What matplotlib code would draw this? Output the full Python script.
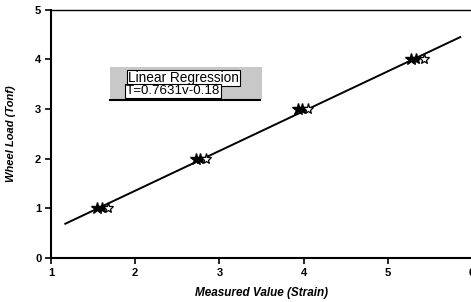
import matplotlib
matplotlib.use("Agg")
import matplotlib.pyplot as plt
from matplotlib.patches import Rectangle

# wheel load (Tonf) vs measured strain
load = [1, 2, 3, 4]
strain_a = [1.55, 2.72, 3.93, 5.27]
strain_b = [1.60, 2.77, 3.98, 5.33]
strain_c = [1.68, 2.84, 4.05, 5.43]
fit_x = [1.17, 5.86]
fit_y = [0.69, 4.45]
fit_title = "Linear Regression"
fit_eq = "T=0.7631v-0.18"
xticks = [1, 2, 3, 4, 5, 6]
yticks = [0, 1, 2, 3, 4, 5]

plt.rcParams["font.family"] = ["Liberation Sans", "DejaVu Sans"]

fig = plt.figure(figsize=(4.71, 3.02), dpi=100)
ax = fig.add_axes([0.1083, 0.1457, 0.894, 0.822])

ax.plot(fit_x, fit_y, color="black", lw=1.4, zorder=2)
ax.plot(strain_a, load, linestyle="none", marker="*", ms=9, color="black", zorder=3)
ax.plot(strain_b, load, linestyle="none", marker="*", ms=8, color="black", zorder=3)
ax.plot(strain_c, load, linestyle="none", marker="*", ms=8, mfc="white",
        mec="black", mew=0.9, zorder=3)

ax.set_xlim(1, 6)
ax.set_ylim(0, 5)
ax.set_xticks(xticks)
ax.set_yticks(yticks)
ax.tick_params(direction="out", length=4, width=1.2, labelsize=8, pad=3)
for lab in ax.get_xticklabels() + ax.get_yticklabels():
    lab.set_fontweight("bold")

ax.spines["left"].set_linewidth(1.5)
ax.spines["bottom"].set_linewidth(1.5)
ax.spines["top"].set_linewidth(1.0)
ax.spines["right"].set_visible(False)

ax.set_xlabel("Measured Value (Strain)", fontsize=8.5, fontweight="bold",
              fontstyle="italic", labelpad=7)
ax.set_ylabel("Wheel Load (Tonf)", fontsize=8, fontweight="bold",
              fontstyle="italic", labelpad=14)

# shaded legend-like box
ax.add_patch(Rectangle((1.70, 3.20), 1.80, 0.64, facecolor="#c8c8c8",
                       edgecolor="none", zorder=1))
ax.plot([1.70, 3.48], [3.19, 3.19], color="black", lw=1.5, zorder=2)
box = dict(boxstyle="square,pad=0.08", facecolor="white", edgecolor="black", lw=0.8)
ax.text(1.91, 3.62, fit_title, fontsize=9.8, va="center", ha="left",
        zorder=4, bbox=box)
ax.text(1.89, 3.37, fit_eq, fontsize=9.6, va="center", ha="left",
        zorder=4, bbox=box)

fig.savefig("out.png", dpi=100)
